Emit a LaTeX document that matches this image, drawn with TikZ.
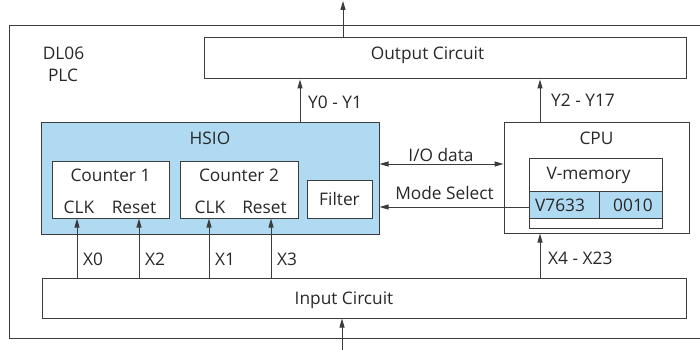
\documentclass[tikz,border=0pt]{standalone}
\usepackage{fontspec}
\setmainfont{Open Sans}
\usetikzlibrary{arrows.meta,calc}
\definecolor{lc}{RGB}{60,60,60}
\definecolor{tc}{RGB}{40,40,40}
\definecolor{hsblue}{RGB}{176,218,242}
\begin{document}
\begin{tikzpicture}[x=1pt,y=-1pt,
  font=\fontsize{17.3}{20}\selectfont, text=tc,
  box/.style={draw=lc,line width=1pt,fill=white,inner sep=0pt},
  txt/.style={inner sep=0pt,text height=12.4pt,text depth=0pt},
  arr/.style={draw=lc,line width=1pt,-{Triangle[length=9pt,width=5pt]}},
  darr/.style={draw=lc,line width=1pt,{Triangle[length=9pt,width=5pt]}-{Triangle[length=9pt,width=5pt]}}]
\useasboundingbox (0,0) rectangle (700,350);
\fill[white] (0,0) rectangle (700,350);
% outer PLC frame (right side runs off the picture)
\draw[lc,line width=1pt] (704,26) -- (9,26) -- (9,338) -- (704,338);
\node[txt] (dl) at (63.5,53.5) {DL06};
\node[txt] (plc) at (63,75) {PLC};

% boxes
\node[box,minimum width=482pt,minimum height=41pt] (out) at (445,58.5) {};
\node[txt] (outt) at (427.5,53.5) {Output Circuit};
\node[box,fill=hsblue,minimum width=338pt,minimum height=112pt] (hsio) at (210,178) {};
\node[txt] (hsiot) at (210,138) {HSIO};
\node[box,minimum width=117pt,minimum height=57pt] (c1) at (110.5,189.5) {};
\node[txt] (c1t) at (110.5,175.5) {Counter 1};
\node[txt] (clk1) at (79,207) {CLK};
\node[txt] (rst1) at (134,207) {Reset};
\node[box,minimum width=118pt,minimum height=57pt] (c2) at (239,189.5) {};
\node[txt] (c2t) at (239,175.5) {Counter 2};
\node[txt] (clk2) at (210,207) {CLK};
\node[txt] (rst2) at (264.5,207) {Reset};
\node[box,minimum width=65pt,minimum height=38pt] (flt) at (339.5,199) {};
\node[txt] (fltt) at (339.5,199) {Filter};
\node[box,minimum width=644pt,minimum height=40pt] (inp) at (364,298) {};
\node[txt] (inpt) at (344,298.5) {Input Circuit};
\node[box,minimum width=185pt,minimum height=111pt] (cpu) at (596.5,177.5) {};
\node[txt] (cput) at (596.5,138) {CPU};
\node[box,minimum width=133pt,minimum height=70pt] (vm) at (595.5,193) {};
\node[txt] (vmt) at (588.5,173) {V-memory};
\node[box,fill=hsblue,minimum width=70pt,minimum height=27pt] (va) at (564,204.5) {};
\node[txt] (vat) at (560,205) {V7633};
\node[box,fill=hsblue,minimum width=63pt,minimum height=27pt] (vd) at (630.5,204.5) {};
\node[txt] (vdt) at (633,205) {0010};

% connector x positions
\coordinate (a0) at (77,0);
\coordinate (a2) at (139,0);
\coordinate (a1) at (209,0);
\coordinate (a3) at (271,0);
\coordinate (ay0) at (300,0);
\coordinate (ay2) at (540,0);
\coordinate (top) at (343,1);
\coordinate (bot) at (342,350);

% connectors
\draw[arr] (inp.north -| a0) -- (c1.south -| a0);
\draw[arr] (inp.north -| a2) -- (c1.south -| a2);
\draw[arr] (inp.north -| a1) -- (c2.south -| a1);
\draw[arr] (inp.north -| a3) -- (c2.south -| a3);
\draw[arr] (inp.north -| ay2) -- (cpu.south -| ay2);
\draw[arr] (hsio.north -| ay0) -- (out.south -| ay0);
\draw[arr] (cpu.north -| ay2) -- (out.south -| ay2);
\draw[arr] (out.north -| top) -- (top);
\draw[arr] (bot) -- (inp.south -| bot);
\draw[darr] (hsio.east |- 0,164) -- (cpu.west |- 0,164);
\draw[arr] (va.west |- 0,207) -- (hsio.east |- 0,207);

% connector labels
\node[txt,anchor=west] (lx0) at (83,259) {X0};
\node[txt,anchor=west] (lx2) at (145,259) {X2};
\node[txt,anchor=west] (lx1) at (215,259) {X1};
\node[txt,anchor=west] (lx3) at (277,259) {X3};
\node[txt,anchor=west] (lx4) at (548,258) {X4 - X23};
\node[txt,anchor=west] (ly0) at (308,102) {Y0 - Y1};
\node[txt,anchor=west] (ly2) at (551,100) {Y2 - Y17};
\node[txt] (lio) at (441,155) {I/O data};
\node[txt] (lms) at (444.5,193.5) {Mode Select};
\end{tikzpicture}
\end{document}
